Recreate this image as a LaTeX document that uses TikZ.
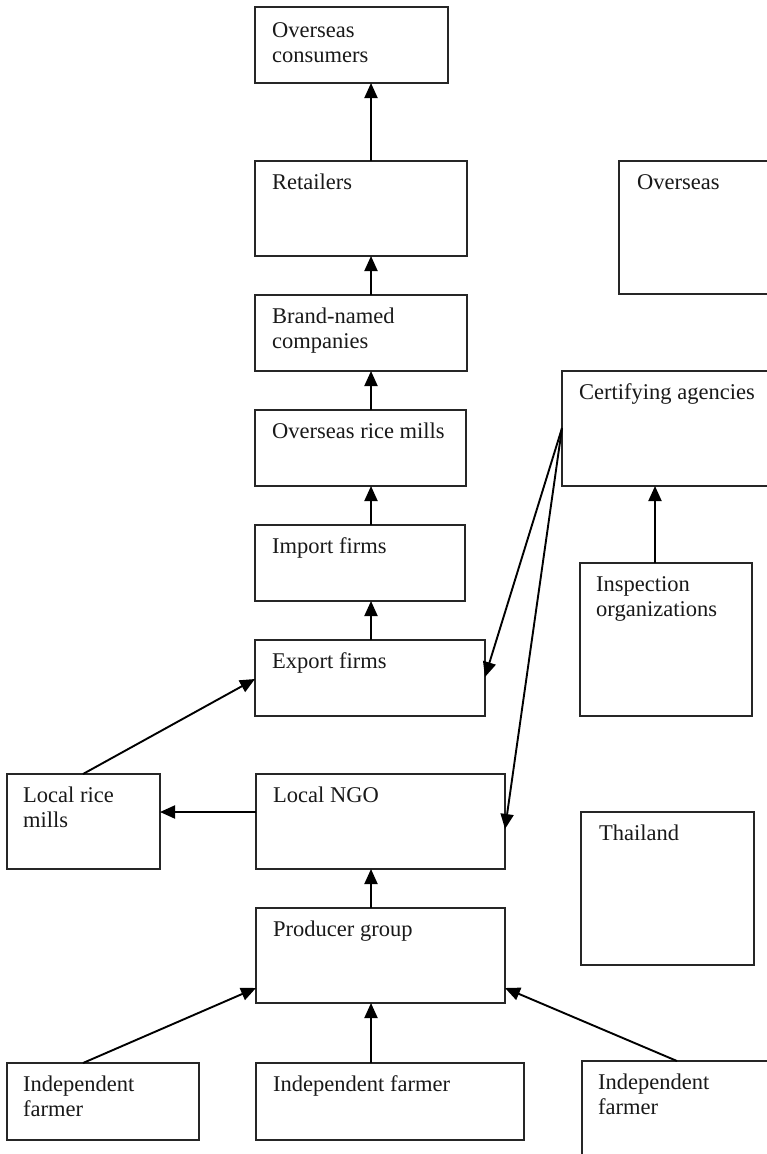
\documentclass[tikz,border=0pt]{standalone}
\usepackage{fontspec}
\setmainfont{Liberation Serif}
\usetikzlibrary{arrows.meta}
\begin{document}
\begin{tikzpicture}[x=1pt,y=-1pt,
  box/.style={draw=black!85, line width=1.3pt, anchor=north west, inner sep=0pt, outer sep=0pt},
  lbl/.style={anchor=base west, inner sep=0pt, text=black!90, font=\fontsize{22.5}{25}\selectfont},
  arr/.style={draw=black, line width=1.9pt, -{Triangle[length=15pt,width=13pt]}}]
\useasboundingbox (0,0) rectangle (767,1154);
\clip (0,0) rectangle (767,1154);
\fill[white] (0,0) rectangle (767,1154);

% boxes
\node[box, minimum width=193pt, minimum height=76pt] (cons) at (255,7) {};
\node[box, minimum width=212pt, minimum height=95pt] (ret) at (255,161) {};
\node[box, minimum width=212pt, minimum height=76pt] (brand) at (255,295) {};
\node[box, minimum width=211pt, minimum height=76pt] (orm) at (255,410) {};
\node[box, minimum width=210pt, minimum height=76pt] (imp) at (255,525) {};
\node[box, minimum width=230pt, minimum height=76pt] (exp) at (255,640) {};
\node[box, minimum width=200pt, minimum height=133pt] (over) at (619,161) {};
\node[box, minimum width=250pt, minimum height=115pt] (cert) at (562,371) {};
\node[box, minimum width=172pt, minimum height=153pt] (insp) at (580,563) {};
\node[box, minimum width=153pt, minimum height=95pt] (lrm) at (7,774) {};
\node[box, minimum width=249pt, minimum height=95pt] (ngo) at (256,774) {};
\node[box, minimum width=173pt, minimum height=153pt] (thai) at (581,812) {};
\node[box, minimum width=249pt, minimum height=95pt] (pg) at (256,908) {};
\node[box, minimum width=192pt, minimum height=77pt] (f1) at (7,1063) {};
\node[box, minimum width=268pt, minimum height=77pt] (f2) at (256,1063) {};
\node[box, minimum width=250pt, minimum height=140pt] (f3) at (582,1061) {};

% labels
\node[lbl] (consT) at ([xshift=17pt,yshift=-30pt]cons.north west) {\begin{tabular}[t]{@{}l@{}}Overseas\\consumers\end{tabular}};
\node[lbl] (retT) at ([xshift=17pt,yshift=-28.5pt]ret.north west) {Retailers};
\node[lbl] (brandT) at ([xshift=17pt,yshift=-28.5pt]brand.north west) {\begin{tabular}[t]{@{}l@{}}Brand-named\\companies\end{tabular}};
\node[lbl] (ormT) at ([xshift=17pt,yshift=-28.5pt]orm.north west) {Overseas rice mills};
\node[lbl] (impT) at ([xshift=17pt,yshift=-28.5pt]imp.north west) {Import firms};
\node[lbl] (expT) at ([xshift=17pt,yshift=-28.5pt]exp.north west) {Export firms};
\node[lbl] (overT) at ([xshift=18pt,yshift=-28.5pt]over.north west) {Overseas};
\node[lbl] (certT) at ([xshift=17pt,yshift=-28.5pt]cert.north west) {Certifying agencies};
\node[lbl] (inspT) at ([xshift=16pt,yshift=-28.5pt]insp.north west) {\begin{tabular}[t]{@{}l@{}}Inspection\\organizations\end{tabular}};
\node[lbl] (lrmT) at ([xshift=16pt,yshift=-28.5pt]lrm.north west) {\begin{tabular}[t]{@{}l@{}}Local rice\\mills\end{tabular}};
\node[lbl] (ngoT) at ([xshift=17pt,yshift=-28.5pt]ngo.north west) {Local NGO};
\node[lbl] (thaiT) at ([xshift=18pt,yshift=-28.5pt]thai.north west) {Thailand};
\node[lbl] (pgT) at ([xshift=17pt,yshift=-28.5pt]pg.north west) {Producer group};
\node[lbl] (f1T) at ([xshift=16pt,yshift=-28pt]f1.north west) {\begin{tabular}[t]{@{}l@{}}Independent\\farmer\end{tabular}};
\node[lbl] (f2T) at ([xshift=17pt,yshift=-28.5pt]f2.north west) {Independent farmer};
\node[lbl] (f3T) at ([xshift=16pt,yshift=-28pt]f3.north west) {\begin{tabular}[t]{@{}l@{}}Independent\\farmer\end{tabular}};

% connectors
\draw[arr] ([xshift=116pt]ret.north west) -- ([xshift=116pt]cons.south west);
\draw[arr] ([xshift=116pt]brand.north west) -- ([xshift=116pt]ret.south west);
\draw[arr] ([xshift=116pt]orm.north west) -- ([xshift=116pt]brand.south west);
\draw[arr] ([xshift=116pt]imp.north west) -- ([xshift=116pt]orm.south west);
\draw[arr] ([xshift=116pt]exp.north west) -- ([xshift=116pt]imp.south west);
\draw[arr] ([xshift=75pt]insp.north west) -- ([xshift=93pt]cert.south west);
\draw[arr] ([yshift=-57pt]cert.north west) -- ([yshift=-37pt]exp.north east);
\draw[arr] ([yshift=-57pt]cert.north west) -- ([yshift=-55pt]ngo.north east);
\draw[arr] ([yshift=-38pt]ngo.north west) -- ([yshift=-38pt]lrm.north east);
\draw[arr] ([xshift=76pt]lrm.north west) -- ([yshift=-39pt]exp.north west);
\draw[arr] ([xshift=115pt]pg.north west) -- ([xshift=115pt]ngo.south west);
\draw[arr] ([xshift=76pt]f1.north west) -- ([yshift=-80pt]pg.north west);
\draw[arr] ([xshift=115pt]f2.north west) -- ([xshift=115pt]pg.south west);
\draw[arr] ([xshift=95pt]f3.north west) -- ([yshift=-80pt]pg.north east);
\end{tikzpicture}
\end{document}
